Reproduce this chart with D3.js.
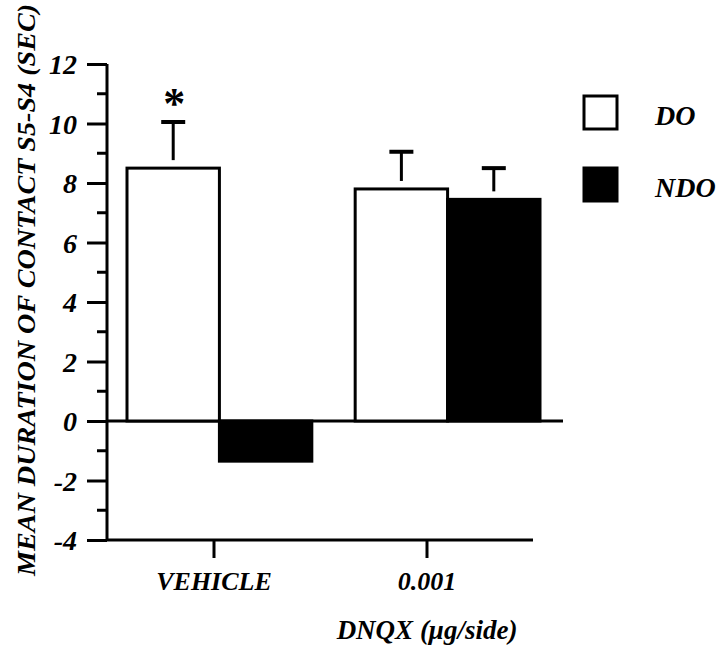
<!DOCTYPE html>
<html>
<head>
<meta charset="utf-8">
<script src="https://d3js.org/d3.v7.min.js"></script>
<style type="text/css">
body { margin:0; background:#fff; }
text { font-family: "Liberation Serif", "DejaVu Serif", serif; font-weight:bold; font-style:italic; fill:#000; }
</style>
</head>
<body>
<svg id="chart"></svg>
<script>
// data
var groups = ["VEHICLE", "0.001"];
var series = ["DO", "NDO"];
var doMeans = [8.5, 7.8];
var doErrTop = [10.05, 9.05];
var ndoMeans = [-1.35, 7.45];
var ndoErrTop = [null, 8.5];
var significant = [true, false];
var yTicks = [-4, -2, 0, 2, 4, 6, 8, 10, 12];

var width = 720, height = 650;
var svg = d3.select("#chart").attr("width", width).attr("height", height);

var y = d3.scaleLinear().domain([-4, 12]).range([540, 64]);

// axis category ticks
var xAxisScale = d3.scalePoint().domain(groups).range([107, 533]).padding(0.5);
// bar placement
var xGroup = d3.scaleBand().domain(groups).range([127, 540]).paddingInner(0.19).paddingOuter(0);
var xSeries = d3.scaleBand().domain(series).range([0, xGroup.bandwidth()]);
var fill = d3.scaleOrdinal().domain(series).range(["#fff", "#000"]);

var rows = [];
groups.forEach(function(g, i) {
  rows.push({group: g, s: "DO", v: doMeans[i], err: doErrTop[i], sig: significant[i]});
  rows.push({group: g, s: "NDO", v: ndoMeans[i], err: ndoErrTop[i], sig: false});
});

// zero line
svg.append("line")
  .attr("x1", 107).attr("x2", 563)
  .attr("y1", y(0)).attr("y2", y(0))
  .attr("stroke", "#000").attr("stroke-width", 3);

// bars
svg.selectAll("rect.bar")
  .data(rows)
  .enter().append("rect")
  .attr("class", "bar")
  .attr("x", function(d) { return xGroup(d.group) + xSeries(d.s); })
  .attr("width", xSeries.bandwidth())
  .attr("y", function(d) { return y(Math.max(0, d.v)); })
  .attr("height", function(d) { return Math.abs(y(d.v) - y(0)); })
  .attr("fill", function(d) { return fill(d.s); })
  .attr("stroke", "#000")
  .attr("stroke-width", 3);

// error bars (upper only)
var eb = svg.selectAll("g.err")
  .data(rows.filter(function(d) { return d.err != null; }))
  .enter().append("g")
  .attr("class", "err")
  .attr("transform", function(d) {
    return "translate(" + (xGroup(d.group) + xSeries(d.s) + xSeries.bandwidth() / 2) + ",0)";
  });
eb.append("line")
  .attr("x1", 0).attr("x2", 0)
  .attr("y1", function(d) { return y(d.v) - 8; })
  .attr("y2", function(d) { return y(d.err); })
  .attr("stroke", "#000").attr("stroke-width", 3);
eb.append("line")
  .attr("x1", -12).attr("x2", 12)
  .attr("y1", function(d) { return y(d.err); })
  .attr("y2", function(d) { return y(d.err); })
  .attr("stroke", "#000").attr("stroke-width", 4);
eb.filter(function(d) { return d.sig; })
  .append("text")
  .attr("x", 1)
  .attr("y", function(d) { return y(d.err) - 4; })
  .attr("text-anchor", "middle")
  .style("font-size", "44px")
  .style("font-style", "normal")
  .text("*");

// y axis
var yAxis = d3.axisLeft(y).tickValues(yTicks).tickSize(20).tickPadding(10)
  .tickFormat(function(d) { return String(d); });
var yg = svg.append("g").attr("transform", "translate(107,0)").call(yAxis);
yg.select(".domain").remove();
yg.append("line").attr("x1", 0).attr("x2", 0).attr("y1", y(12)).attr("y2", y(-4))
  .attr("stroke", "#000").attr("stroke-width", 3);
yg.selectAll(".tick line").attr("stroke", "#000").attr("stroke-width", 3);
yg.selectAll(".tick text").style("font-size", "28px").attr("dy", "0.34em");
// minor ticks
yg.selectAll("line.minor")
  .data(d3.range(-3, 12, 2))
  .enter().append("line")
  .attr("class", "minor")
  .attr("x1", -10).attr("x2", 0)
  .attr("y1", function(d) { return y(d); })
  .attr("y2", function(d) { return y(d); })
  .attr("stroke", "#000").attr("stroke-width", 3);

// x axis
var xAxis = d3.axisBottom(xAxisScale).tickSize(18).tickPadding(14);
var xg = svg.append("g").attr("transform", "translate(0,540)").call(xAxis);
xg.select(".domain").remove();
xg.append("line").attr("x1", 106).attr("x2", 533).attr("y1", 0).attr("y2", 0)
  .attr("stroke", "#000").attr("stroke-width", 3);
xg.selectAll(".tick line").attr("stroke", "#000").attr("stroke-width", 3);
xg.selectAll(".tick text").style("font-size", "26px");

// axis titles
svg.append("text")
  .attr("transform", "translate(35,290) rotate(-90)")
  .attr("text-anchor", "middle")
  .style("font-size", "26px")
  .attr("textLength", 572)
  .attr("lengthAdjust", "spacingAndGlyphs")
  .text("MEAN DURATION OF CONTACT S5-S4 (SEC)");

svg.append("text")
  .attr("x", 427).attr("y", 639)
  .attr("text-anchor", "middle")
  .style("font-size", "27px")
  .text("DNQX (\u03bcg/side)");

// legend
var legend = svg.selectAll("g.legend")
  .data(series)
  .enter().append("g")
  .attr("class", "legend")
  .attr("transform", function(d, i) { return "translate(584," + (96 + i * 72) + ")"; });
legend.append("rect")
  .attr("width", 33).attr("height", 33)
  .attr("fill", function(d) { return fill(d); })
  .attr("stroke", "#000").attr("stroke-width", 3);
legend.append("text")
  .attr("x", 71).attr("y", 29)
  .style("font-size", "28px")
  .text(function(d) { return d; });
</script>
</body>
</html>
